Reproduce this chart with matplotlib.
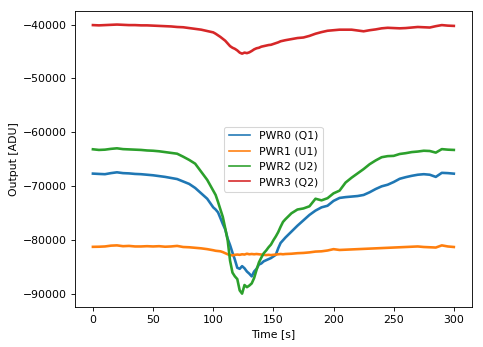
import matplotlib
matplotlib.use("Agg")
import matplotlib.pyplot as plt

# tempo [s] (mais denso na região do vale)
time_s = ([0, 5, 10, 15, 20, 25, 30, 35, 40, 45, 50, 55, 60, 65, 70, 75, 80, 85, 90, 95, 100]
          + list(range(102, 161, 2))
          + list(range(165, 301, 5)))

pwr0_q1 = [-67640, -67700, -67750, -67550, -67400, -67550, -67600, -67700, -67750, -67850,
           -67950, -68100, -68250, -68450, -68650, -69100, -69550, -70300, -71300, -72300,
           -73900,
           -74300, -74830, -75900, -77000, -78000, -79700, -80900, -82300, -83600, -85100,
           -85300, -84800, -85200, -85800, -86200, -86700, -85800, -85300, -84500, -84300,
           -83900, -83700, -83500, -83300, -83000, -82700, -81500, -80500, -80000, -79500,
           -78400, -77300, -76300, -75300, -74500, -73900, -73600, -72700, -72150, -72000,
           -71900, -71800, -71600, -71100, -70500, -70000, -69700, -69200, -68600, -68300,
           -68050, -67850, -67750, -67850, -68250, -67500, -67550, -67650]

pwr1_u1 = [-81220, -81200, -81150, -81000, -80950, -81100, -81050, -81150, -81150, -81100,
           -81150, -81100, -81200, -81150, -81050, -81250, -81300, -81400, -81500, -81650,
           -81850,
           -81950, -82000, -82050, -82200, -82400, -82600, -82750, -82800, -82700, -82650,
           -82700, -82600, -82650, -82500, -82600, -82550, -82600, -82550, -82600, -82650,
           -82700, -82750, -82700, -82750, -82700, -82650, -82600, -82550, -82600, -82550,
           -82500, -82400, -82350, -82250, -82100, -82050, -81900, -81650, -81800, -81750,
           -81700, -81650, -81600, -81550, -81500, -81450, -81400, -81350, -81300, -81250,
           -81200, -81150, -81250, -81300, -81350, -80950, -81150, -81250]

pwr2_u2 = [-63130, -63250, -63200, -63050, -62950, -63100, -63150, -63200, -63250, -63350,
           -63400, -63500, -63650, -63800, -63950, -64500, -65100, -65800, -67300, -68800,
           -70800,
           -71600, -72900, -74300, -75700, -77800, -80000, -83800, -86000, -86700, -87200,
           -89300, -89900, -88300, -88700, -88400, -88000, -87000, -85500, -84100, -83200,
           -82400, -81900, -81300, -80800, -80000, -79300, -78500, -77500, -76600, -76100,
           -75000, -74300, -74100, -73700, -72300, -72600, -72200, -71300, -70800, -69300,
           -68400, -67600, -66800, -65900, -65200, -64600, -64400, -64350, -64000, -63850,
           -63650, -63550, -63400, -63450, -63750, -63100, -63200, -63250]

pwr3_q2 = [-40100, -40150, -40100, -40050, -40000, -40050, -40100, -40100, -40150, -40150,
           -40200, -40250, -40300, -40350, -40450, -40500, -40650, -40800, -40950, -41200,
           -41450,
           -41700, -42000, -42300, -42650, -43000, -43500, -44000, -44300, -44500, -44800,
           -45200, -45400, -45200, -45300, -45150, -44900, -44600, -44400, -44300, -44100,
           -44000, -43900, -43800, -43750, -43600, -43450, -43300, -43100, -43000, -42900,
           -42700, -42500, -42400, -42100, -41700, -41400, -41150, -41050, -40950, -40950,
           -40950, -41100, -41250, -41050, -40900, -40700, -40600, -40650, -40700, -40650,
           -40550, -40450, -40500, -40550, -40300, -40100, -40200, -40250]

labels = ['PWR0 (Q1)', 'PWR1 (U1)', 'PWR2 (U2)', 'PWR3 (Q2)']

fig, ax = plt.subplots(figsize=(483 / 78, 347 / 78), dpi=78)
fig.subplots_adjust(left=0.155, right=0.977, top=0.968, bottom=0.115)

for serie, lab in zip([pwr0_q1, pwr1_u1, pwr2_u2, pwr3_q2], labels):
    ax.plot(time_s, serie, linewidth=2.4, label=lab)

ax.set_xlabel('Time [s]')
ax.set_ylabel('Output [ADU]')

leg = ax.legend(loc='center')
for line in leg.get_lines():
    line.set_linewidth(1.5)

plt.savefig('out.png', dpi=78)
